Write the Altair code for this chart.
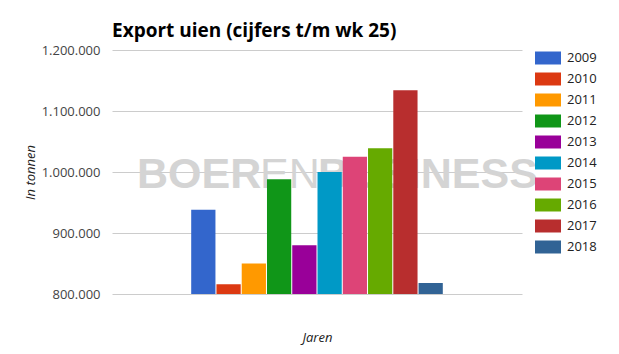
import altair as alt
import pandas as pd

years = ["2009", "2010", "2011", "2012", "2013", "2014", "2015", "2016", "2017", "2018"]
values = [938000, 816000, 850000, 988000, 880000, 1000000, 1025000, 1039000, 1134000, 818000]
colors = ["#3366cc", "#dc3912", "#ff9900", "#109618", "#990099",
          "#0099c6", "#dd4477", "#66aa00", "#b82e2e", "#316395"]
y_ticks = [800000, 900000, 1000000, 1100000, 1200000]
# empty slots around the single group of bars (Google-Charts style centring)
pad_left = ["_l1", "_l2", "_l3"]
pad_right = ["_r1", "_r2", "_r3"]

df = pd.DataFrame({"Jaar": years, "Export": values})

W, H = 410, 244
FONT = "Open Sans"

wm_data = alt.Data(values=[{"a": 1}])
wm_common = dict(font="Liberation Sans", fontSize=43, color="#d4d4d4",
                 align="left", baseline="alphabetic")
wm1 = alt.Chart(wm_data).mark_text(text="BOER", fontWeight="bold", **wm_common).encode(
    x=alt.value(25), y=alt.value(138))
wm2 = alt.Chart(wm_data).mark_text(text="EN", fontWeight="normal", **wm_common).encode(
    x=alt.value(148), y=alt.value(138))
wm3 = alt.Chart(wm_data).mark_text(text="BUSINESS", fontWeight="bold", **wm_common).encode(
    x=alt.value(206), y=alt.value(138))

bars = alt.Chart(df).mark_bar(clip=True).encode(
    x=alt.X("Jaar:N", sort=years,
            scale=alt.Scale(domain=pad_left + years + pad_right,
                            paddingInner=0.04, paddingOuter=0.135),
            axis=alt.Axis(title="Jaren", labels=False, ticks=False, domain=False, grid=False,
                          titleFont=FONT, titleFontStyle="italic", titleFontWeight="normal",
                          titleFontSize=13, titleColor="#222222",
                          titleX=W / 2, titleY=43, titleBaseline="middle", titleAlign="center")),
    y=alt.Y("Export:Q",
            scale=alt.Scale(domain=[800000, 1200000], zero=False, nice=False),
            axis=alt.Axis(title="In tonnen", values=y_ticks,
                          labelExpr="replace(replace(format(datum.value, ','), ',', '.'), ',', '.')",
                          ticks=False, domain=False, gridColor="#cccccc", gridWidth=1,
                          labelFont=FONT, labelFontSize=13, labelColor="#444444", labelPadding=12,
                          titleFont=FONT, titleFontStyle="italic", titleFontWeight="normal",
                          titleFontSize=13, titleColor="#222222", titleAngle=-90,
                          titleX=-82, titleY=H / 2, titleAlign="center", titleBaseline="middle")),
    color=alt.Color("Jaar:N", sort=years,
                    scale=alt.Scale(domain=years, range=colors),
                    legend=alt.Legend(title=None, orient="none", legendX=423, legendY=-5,
                                      symbolType="M-1,-0.5H1V0.5H-1Z", symbolSize=676,
                                      symbolStrokeWidth=0, symbolOpacity=1,
                                      labelFont=FONT, labelFontSize=13, labelColor="#222222",
                                      labelOffset=6, rowPadding=1)),
)

chart = alt.layer(wm1, wm2, wm3, bars).properties(
    width=W, height=H,
    title=alt.TitleParams("Export uien (cijfers t/m wk 25)", anchor="start", frame="group",
                          font=FONT, fontSize=19, fontWeight="bold", color="#000000",
                          offset=3),
    autosize=alt.AutoSizeParams(type="none"),
    padding={"left": 112, "top": 50, "right": 97, "bottom": 60},
).configure_view(stroke=None)

chart.save("out.html", embed_options={"renderer": "svg", "actions": False})
